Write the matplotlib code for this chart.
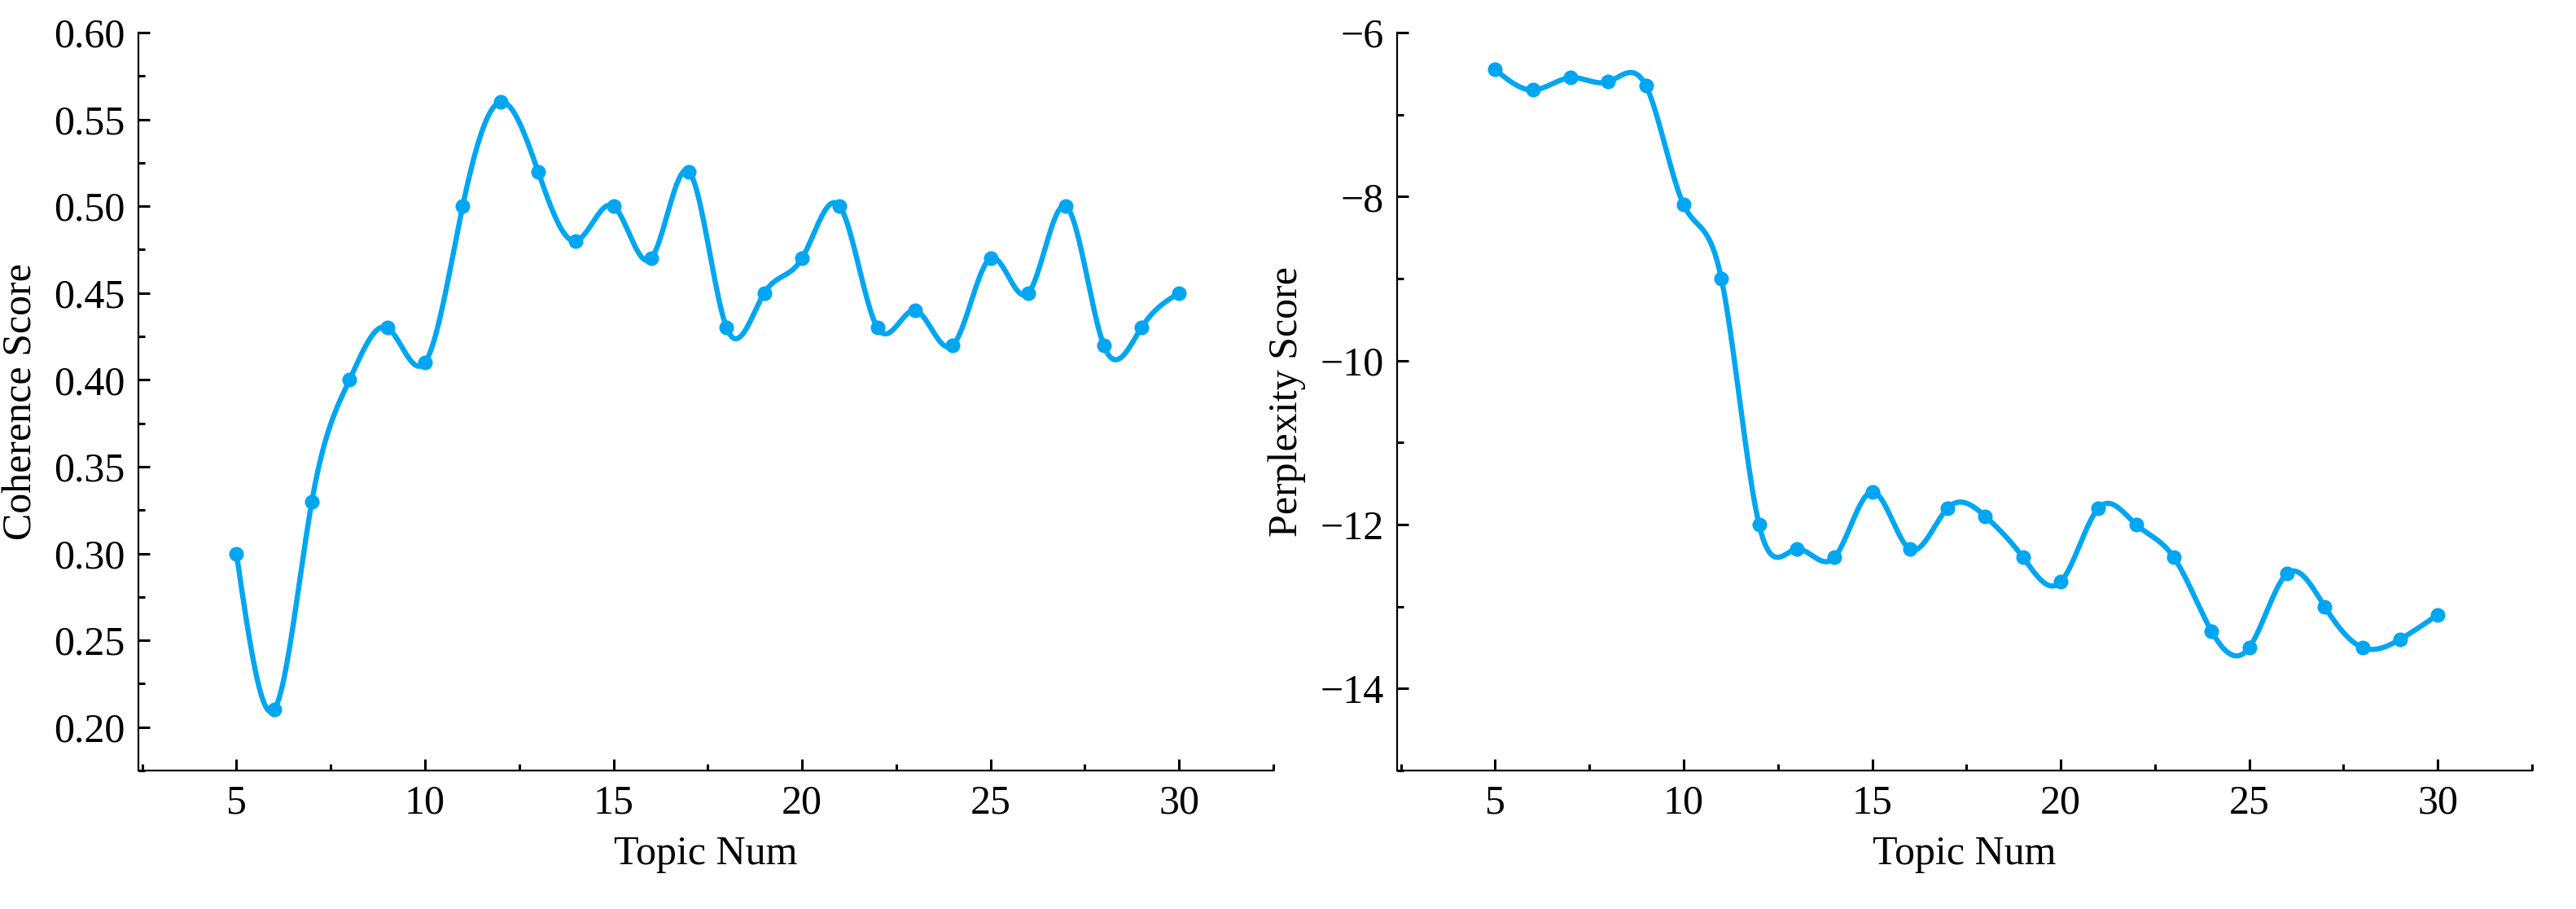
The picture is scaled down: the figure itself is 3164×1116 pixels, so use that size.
import numpy as np
import matplotlib.pyplot as plt
from matplotlib.ticker import MultipleLocator, FormatStrFormatter

plt.rcParams['font.family'] = ['Liberation Serif', 'DejaVu Serif']

topics = list(range(5, 31))
coherence = [0.30, 0.21, 0.33, 0.40, 0.43, 0.41, 0.50, 0.56, 0.52, 0.48, 0.50, 0.47, 0.52,
             0.43, 0.45, 0.47, 0.50, 0.43, 0.44, 0.42, 0.47, 0.45, 0.50, 0.42, 0.43, 0.45]
perplexity = [-6.45, -6.7, -6.55, -6.6, -6.65, -8.1, -9.0, -12.0, -12.3, -12.4, -11.6, -12.3, -11.8,
              -11.9, -12.4, -12.7, -11.8, -12.0, -12.4, -13.3, -13.5, -12.6, -13.0, -13.5, -13.4, -13.1]


def spline(x, y, n=600):
    # natural cubic spline
    x = np.asarray(x, float); y = np.asarray(y, float)
    k = len(x); h = np.diff(x)
    A = np.zeros((k, k)); b = np.zeros(k)
    A[0, 0] = A[-1, -1] = 1
    for i in range(1, k - 1):
        A[i, i - 1] = h[i - 1]; A[i, i] = 2 * (h[i - 1] + h[i]); A[i, i + 1] = h[i]
        b[i] = 3 * ((y[i + 1] - y[i]) / h[i] - (y[i] - y[i - 1]) / h[i - 1])
    c = np.linalg.solve(A, b)
    xs = np.linspace(x[0], x[-1], n)
    idx = np.clip(np.searchsorted(x, xs) - 1, 0, k - 2)
    dx = xs - x[idx]
    bb = (y[idx + 1] - y[idx]) / h[idx] - h[idx] * (2 * c[idx] + c[idx + 1]) / 3
    d = (c[idx + 1] - c[idx]) / (3 * h[idx])
    return xs, y[idx] + bb * dx + c[idx] * dx ** 2 + d * dx ** 3


color = '#00A6F2'
fig = plt.figure(figsize=(15.82, 5.58), dpi=200)
ax1 = fig.add_axes([85 / 1582, 85 / 558, 697 / 1582, 453 / 558])
ax2 = fig.add_axes([858 / 1582, 85 / 558, 697 / 1582, 453 / 558])

for ax, vals, lab in [(ax1, coherence, 'Coherence Score'), (ax2, perplexity, 'Perplexity Score')]:
    xs, ys = spline(topics, vals)
    ax.plot(xs, ys, color=color, lw=2.3)
    ax.plot(topics, vals, 'o', color=color, ms=5.5)
    ax.set_xlim(2.4, 32.5)
    ax.xaxis.set_major_locator(MultipleLocator(5))
    ax.xaxis.set_minor_locator(MultipleLocator(2.5))
    ax.spines['top'].set_visible(False)
    ax.spines['right'].set_visible(False)
    ax.tick_params(which='both', direction='in', labelsize=18, width=1.1)
    ax.tick_params(which='major', length=5, pad=6)
    ax.tick_params(which='minor', length=3)
    ax.set_xlabel('Topic Num', fontsize=18, labelpad=6)
    ax.set_ylabel(lab, fontsize=18, labelpad=6)

ax1.set_ylim(0.175, 0.60)
ax1.yaxis.set_major_locator(MultipleLocator(0.05))
ax1.yaxis.set_minor_locator(MultipleLocator(0.025))
ax1.yaxis.set_major_formatter(FormatStrFormatter('%.2f'))
ax2.set_ylim(-15, -6)
ax2.yaxis.set_major_locator(MultipleLocator(2))
ax2.yaxis.set_minor_locator(MultipleLocator(1))

plt.savefig('out.png')
